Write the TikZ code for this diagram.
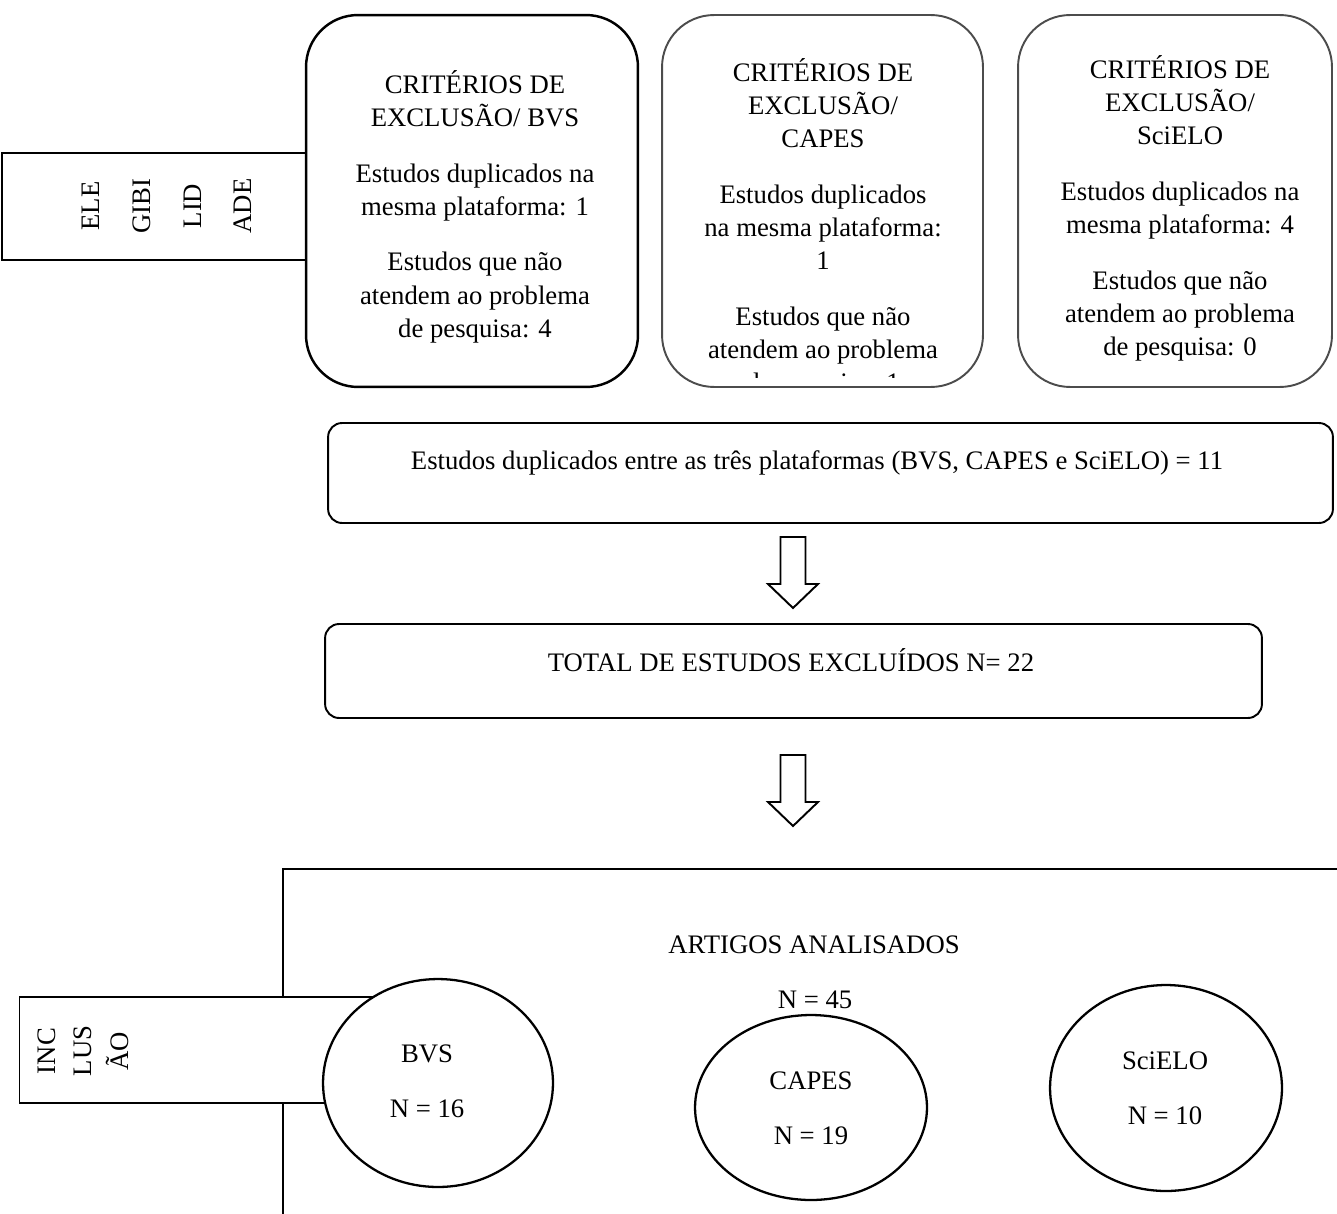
\documentclass[tikz,border=0pt]{standalone}
\usepackage{fontspec}
\setmainfont{Liberation Serif}
\usetikzlibrary{shapes.geometric}

\begin{document}
\begin{tikzpicture}[x=0.02cm, y=-0.02cm, font=\fontsize{15.2}{18.8}\selectfont,
                critbox/.style = {draw, rounded corners=1.04cm, minimum height=7.44cm, inner sep=0pt},
                plainbox/.style = {draw, line width=1.1pt, rounded corners=0.28cm, inner sep=0pt},
                sidebox/.style = {draw, fill=white, inner sep=0pt},
                dbellipse/.style = {ellipse, draw, line width=1.3pt, fill=white, inner sep=0pt},
                txt/.style = {align=center, inner sep=0pt},
                downarrow/.pic = {\draw[line width=1.1pt] (-12.5,0) -- (12.5,0) -- (12.5,47) -- (25,47)
                    -- (0,71) -- (-25,47) -- (-12.5,47) -- cycle;}]
                \useasboundingbox (0,0) rectangle (1337,1213);
                \clip (0,0) rectangle (1337,1213);
                \node[sidebox, line width=1pt, minimum width=6.08cm, minimum height=2.14cm] (eleg) at (154,206.5) {};
                \node[txt, rotate=90, font=\fontsize{15.2}{28.8}\selectfont] (elegtxt) at (167,206) {ELE\\GIBI\\LID\\ADE};
                \node[critbox, line width=1.4pt, minimum width=6.64cm] (bvs) at (472,201) {};
                \node[txt] (bvstxt) at (475,206.5) {CRITÉRIOS DE\\EXCLUSÃO/ BVS\\[13pt]Estudos duplicados na\\mesma plataforma: 1\\[13pt]Estudos que não\\atendem ao problema\\de pesquisa: 4};
                \node[critbox, line width=1.1pt, draw=black!70, minimum width=6.42cm] (capes) at (822.5,201) {};
                \begin{scope}
                    \clip (662,20) rectangle (983,377);
                    \node[txt] (capestxt) at (823,228) {CRITÉRIOS DE\\EXCLUSÃO/\\CAPES\\[13pt]Estudos duplicados\\na mesma plataforma:\\1\\[13pt]Estudos que não\\atendem ao problema\\de pesquisa: 1};
                \end{scope}
                \node[critbox, line width=1.1pt, draw=black!70, minimum width=6.28cm] (scielo) at (1175,201) {};
                \node[txt] (scielotxt) at (1180,208) {CRITÉRIOS DE\\EXCLUSÃO/\\SciELO\\[13pt]Estudos duplicados na\\mesma plataforma: 4\\[13pt]Estudos que não\\atendem ao problema\\de pesquisa: 0};
                \node[plainbox, minimum width=20.1cm, minimum height=2cm] (dup) at (830.5,473) {};
                \node[txt] (duptxt) at (817,463) {Estudos duplicados entre as três plataformas (BVS, CAPES e SciELO) = 11};
                \pic at (793,537) {downarrow};
                \node[plainbox, minimum width=18.74cm, minimum height=1.88cm] (total) at (793.5,671) {};
                \node[txt] (totaltxt) at (791,660) {TOTAL DE ESTUDOS EXCLUÍDOS N= 22};
                \pic at (793,755) {downarrow};
                \draw[line width=1.1pt] (283,869) rectangle (1400,1300);
                \node[txt] (arttitle) at (814,945) {ARTIGOS ANALISADOS};
                \node[txt] (arttotal) at (815,1000) {N = 45};
                \node[sidebox, line width=0.8pt, minimum width=7.62cm, minimum height=2.12cm, anchor=west] (incl) at (19,1050) {};
                \node[txt, rotate=90, font=\fontsize{15.2}{20.8}\selectfont] (incltxt) at (83,1051) {INC\\LUS\\ÃO};
                \node[dbellipse, minimum width=4.6cm, minimum height=4.16cm] (bvsdb) at (438,1083) {};
                \node[txt] (bvsdbtxt) at (427,1081) {BVS\\[12.5pt]N = 16};
                \node[dbellipse, minimum width=4.64cm, minimum height=3.7cm] (capesdb) at (811,1107.5) {};
                \node[txt] (capesdbtxt) at (811,1108) {CAPES\\[12.5pt]N = 19};
                \node[dbellipse, minimum width=4.64cm, minimum height=4.12cm] (scielodb) at (1166,1088) {};
                \node[txt] (scielodbtxt) at (1165,1088) {SciELO\\[12.5pt]N = 10};
            \end{tikzpicture}
\end{document}
